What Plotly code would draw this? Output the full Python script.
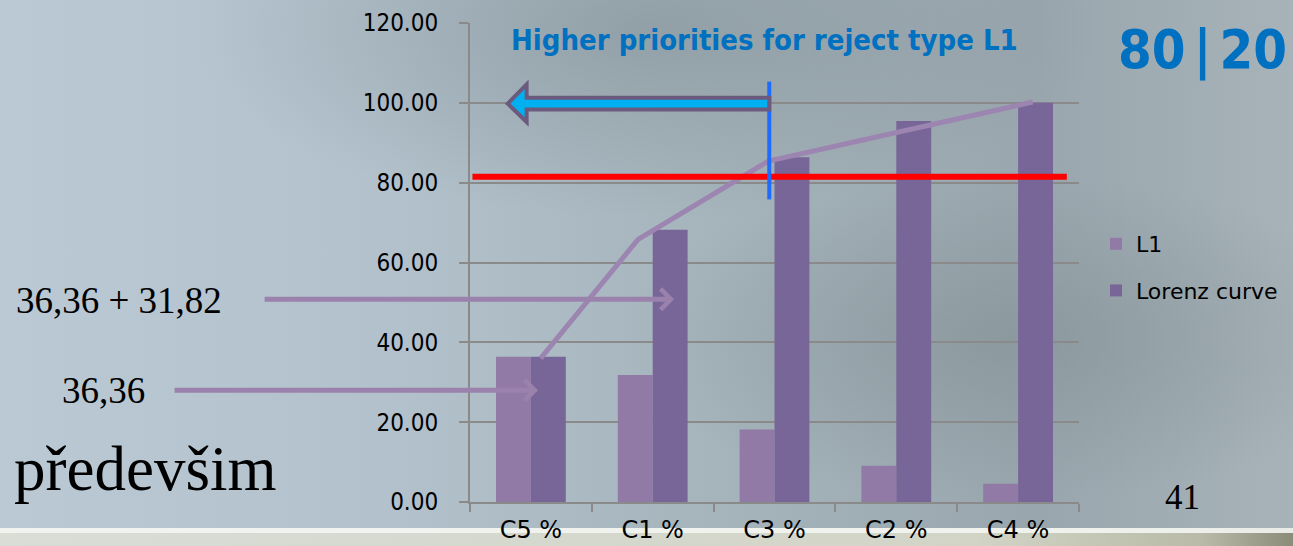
import base64
import plotly.graph_objects as go

# ---------------- data ----------------
categories = ["C5 %", "C1 %", "C3 %", "C2 %", "C4 %"]
l1_values = [36.36, 31.82, 18.18, 9.09, 4.55]
lorenz_values = [36.36, 68.18, 86.36, 95.45, 100.00]
# hand-drawn cumulative curve (position along category axis, value)
curve_x = [0.08, 0.88, 1.95, 4.12]
curve_y = [36.0, 65.8, 85.4, 100.2]
threshold_y = 81.5
cut_x = 1.957
y_ticks = [0, 20, 40, 60, 80, 100, 120]

W, H = 1293, 546
ML, MR, MT, MB = 470, 214, 23, 44
PW, PH = W - ML - MR, H - MT - MB


def px(p):
    return (p - ML) / PW


def py(p):
    return (H - MB - p) / PH


# ---------------- background (slide) ----------------
svg = f'''<svg xmlns="http://www.w3.org/2000/svg" width="{W}" height="{H}" viewBox="0 0 {W} {H}" preserveAspectRatio="none">
<defs>
<linearGradient id="h" x1="0" y1="0" x2="1" y2="0">
<stop offset="0" stop-color="#bac9d4"/>
<stop offset="0.3" stop-color="#b2c1cb"/>
<stop offset="0.55" stop-color="#a6b4bc"/>
<stop offset="0.8" stop-color="#99a6ad"/>
<stop offset="1" stop-color="#a7b3b9"/>
</linearGradient>
<radialGradient id="r1" cx="0.5" cy="0.05" r="0.35">
<stop offset="0" stop-color="#7f8c93" stop-opacity="0.55"/>
<stop offset="1" stop-color="#7f8c93" stop-opacity="0"/>
</radialGradient>
<radialGradient id="r2" cx="0.78" cy="0.62" r="0.3">
<stop offset="0" stop-color="#7d8a8f" stop-opacity="0.5"/>
<stop offset="1" stop-color="#7d8a8f" stop-opacity="0"/>
</radialGradient>
<linearGradient id="b" x1="0" y1="0" x2="1" y2="0">
<stop offset="0" stop-color="#d9ddd6"/>
<stop offset="0.75" stop-color="#d2d4c6"/>
<stop offset="0.93" stop-color="#b9bba8"/>
<stop offset="1" stop-color="#8a8b78"/>
</linearGradient>
</defs>
<rect width="{W}" height="{H}" fill="url(#h)"/>
<rect width="{W}" height="{H}" fill="url(#r1)"/>
<rect width="{W}" height="{H}" fill="url(#r2)"/>
<rect x="0" y="528" width="{W}" height="18" fill="url(#b)"/>
<rect x="0" y="528" width="{W}" height="5" fill="#f3f5f2" opacity="0.9"/>
</svg>'''
bg_src = "data:image/svg+xml;base64," + base64.b64encode(svg.encode()).decode()

fig = go.Figure()

fig.add_trace(go.Bar(x=categories, y=l1_values, name="L1",
                     marker=dict(color="#927aa6", line=dict(width=0)),
                     legendgroup="a"))
fig.add_trace(go.Bar(x=categories, y=lorenz_values, name="Lorenz curve",
                     marker=dict(color="#786699", line=dict(width=0)),
                     legendgroup="b"))
fig.add_trace(go.Scatter(x=curve_x, y=curve_y, xaxis="x2", mode="lines",
                         line=dict(color="#9c85b0", width=5), showlegend=False,
                         hoverinfo="skip"))

sansc = "DejaVu Sans Condensed, DejaVu Sans, sans-serif"
sans = "DejaVu Sans, sans-serif"
serif = "Liberation Serif, Times New Roman, serif"

fig.update_layout(
    width=W, height=H,
    margin=dict(l=ML, r=MR, t=MT, b=MB, pad=0, autoexpand=False),
    paper_bgcolor="rgba(0,0,0,0)",
    plot_bgcolor="rgba(0,0,0,0)",
    barmode="group",
    bargap=0.427,
    bargroupgap=0,
    font=dict(family=sans, color="#000000"),
    xaxis=dict(type="category", range=[-0.5, 4.5], showgrid=False,
               showline=True, linecolor="#8a8a8a", linewidth=2,
               ticks="outside", tickson="boundaries", ticklen=8,
               tickcolor="#8a8a8a", tickwidth=2, automargin=False,
               tickfont=dict(size=24, family=sans, color="#000000"),
               ticklabelstandoff=5, fixedrange=True),
    xaxis2=dict(overlaying="x", range=[-0.5, 4.5], visible=False,
                fixedrange=True),
    yaxis=dict(range=[0, 120], tickvals=y_ticks, tickformat=".2f",
               showgrid=True, gridcolor="#8a8a8a", gridwidth=2,
               showline=True, linecolor="#8a8a8a", linewidth=2,
               ticks="outside", ticklen=9, tickcolor="#8a8a8a", tickwidth=2,
               zeroline=False, automargin=False,
               tickfont=dict(size=24, family=sansc, color="#000000"),
               ticklabelstandoff=16, fixedrange=True),
    legend=dict(x=px(1096), y=py(223), xanchor="left", yanchor="top",
                bgcolor="rgba(0,0,0,0)", font=dict(size=22, family=sans),
                traceorder="grouped", tracegroupgap=15,
                itemclick=False),
    images=[dict(source=bg_src, xref="paper", yref="paper",
                 x=px(0), y=py(0), sizex=W / PW, sizey=H / PH,
                 xanchor="left", yanchor="top", sizing="stretch",
                 layer="below")],
    showlegend=True,
)

# red 80% line, blue cut line, big arrow
fig.add_shape(type="line", xref="x2", yref="y", x0=-0.48, x1=4.40,
              y0=threshold_y, y1=threshold_y,
              line=dict(color="#ff0000", width=6))
fig.add_shape(type="line", xref="x2", yref="y", x0=cut_x, x1=cut_x,
              y0=75.8, y1=105.3, line=dict(color="#1e6cff", width=4))
tip_x, head_x = -0.19, -0.035
fig.add_shape(type="path", xref="x2", yref="y",
              path=(f"M {cut_x},101.3 L {head_x},101.3 L {head_x},104.6 "
                    f"L {tip_x},99.8 L {head_x},95.2 L {head_x},98.3 "
                    f"L {cut_x},98.3 Z"),
              fillcolor="#00b0f0", line=dict(color="#6b5a7e", width=4))


def label(text, x, y, size, family, color="#000000", xanchor="center"):
    fig.add_annotation(text=text, xref="paper", yref="paper",
                       x=px(x), y=py(y), xanchor=xanchor, yanchor="middle",
                       showarrow=False,
                       font=dict(size=size, family=family, color=color))


label("<b>Higher priorities for reject type L1</b>", 764, 40, 29, sansc, "#0070c0")
label("<b>80\u2006|\u200620</b>", 1202, 49, 54, sansc, "#0070c0")
label("41", 1182, 497, 35, serif)
label("36,36 + 31,82", 14, 300, 37, serif, xanchor="left")
label("36,36", 60, 390, 37, serif, xanchor="left")
label("předevšim", 12, 469, 63, serif, xanchor="left")

# purple pointer arrows
fig.add_annotation(text="", xref="x2", yref="y", x=1.176, y=50.8,
                   ax=263 - 674, ay=0, axref="pixel", ayref="pixel",
                   showarrow=True, arrowhead=4, arrowsize=0.8, arrowwidth=5,
                   arrowcolor="#9a82ad", standoff=0, startstandoff=0)
fig.add_annotation(text="", xref="x2", yref="y", x=0.059, y=28.0,
                   ax=173 - 538, ay=0, axref="pixel", ayref="pixel",
                   showarrow=True, arrowhead=4, arrowsize=0.8, arrowwidth=5,
                   arrowcolor="#9a82ad", standoff=0, startstandoff=0)

fig.write_html("out.html", config={"displayModeBar": False},
               post_script="document.body.style.margin='0';"
                           "document.body.style.overflow='hidden';")
